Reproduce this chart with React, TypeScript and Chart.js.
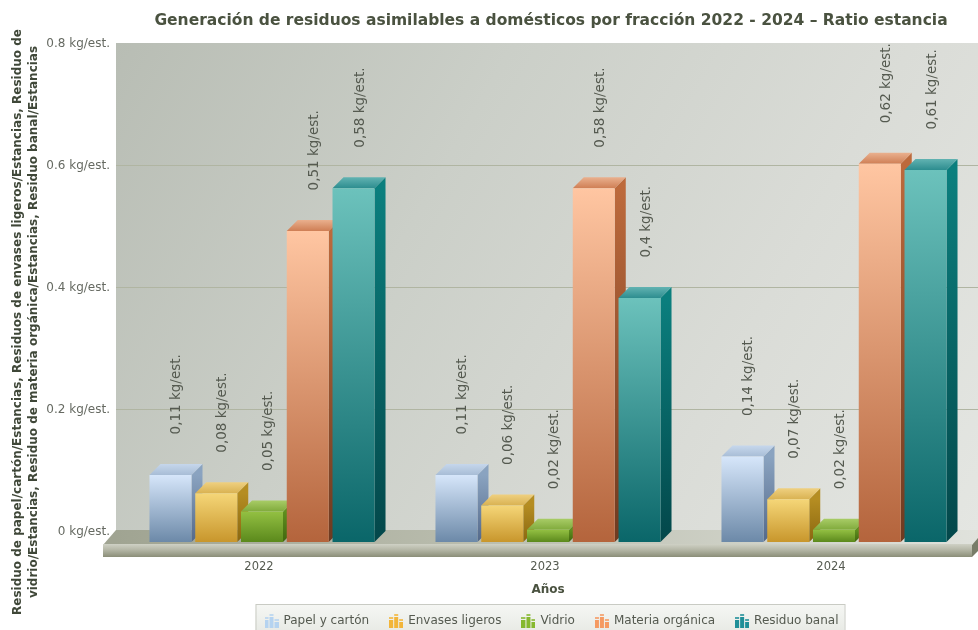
import React, { useEffect, useRef } from "react";
import { Chart, registerables } from "chart.js";

Chart.register(...registerables);

const categories = ["2022", "2023", "2024"];
const papel = [0.11, 0.11, 0.14];
const envases = [0.08, 0.06, 0.07];
const vidrio = [0.05, 0.02, 0.02];
const materia = [0.51, 0.58, 0.62];
const banal = [0.58, 0.4, 0.61];
const seriesNames = ["Papel y cartón", "Envases ligeros", "Vidrio", "Materia orgánica", "Residuo banal"];
const seriesValues = [papel, envases, vidrio, materia, banal];
const titleText = "Generación de residuos asimilables a domésticos por fracción 2022 - 2024 – Ratio estancia";
const yTitleLines = [
  "Residuo de papel/cartón/Estancias, Residuos de envases ligeros/Estancias, Residuo de",
  "vidrio/Estancias, Residuo de materia orgánica/Estancias, Residuo banal/Estancias",
];
const palette = [
  { front: ["#d6e6fa", "#6c89a8"], side: ["#8aa3c0", "#54698a"], top: ["#a8bdd6", "#c6d7ec"], icon: "#b5d3f0" },
  { front: ["#f5d678", "#c8962c"], side: ["#b58d22", "#8a6710"], top: ["#d9b252", "#efd080"], icon: "#f2b53a" },
  { front: ["#93c042", "#5b891c"], side: ["#5f8f1e", "#41660f"], top: ["#80aa3c", "#a8cc66"], icon: "#86b82e" },
  { front: ["#ffc6a2", "#b4643c"], side: ["#bd6a3c", "#6e3a20"], top: ["#cf7f55", "#eab08e"], icon: "#f59a62" },
  { front: ["#6cc2bc", "#0a6669"], side: ["#0b7f7e", "#03474a"], top: ["#2d8d8f", "#62b3b2"], icon: "#1f8f98" },
];

const FONT = "'DejaVu Sans'";
const DX = 11;
const DY = 11;

function vgrad(ctx: CanvasRenderingContext2D, y0: number, y1: number, a: string, b: string) {
  const g = ctx.createLinearGradient(0, y0, 0, y1);
  g.addColorStop(0, a);
  g.addColorStop(1, b);
  return g;
}

function makeIcon(color: string) {
  const c = document.createElement("canvas");
  c.width = 14;
  c.height = 14;
  const x = c.getContext("2d")!;
  x.fillStyle = color;
  x.fillRect(0, 6, 4, 8);
  x.fillRect(5, 3, 4, 11);
  x.fillRect(10, 8, 4, 6);
  x.globalAlpha = 0.8;
  x.fillRect(5, 0, 4, 2);
  x.fillRect(0, 3, 4, 2);
  x.fillRect(10, 5, 4, 2);
  return c;
}

const scene = {
  id: "scene",
  afterUpdate(chart: any) {
    const lg = chart.legend;
    if (lg) {
      lg.left += 4;
      lg.right += 4;
    }
    if (chart.titleBlock) {
      chart.titleBlock.left += 3;
      chart.titleBlock.right += 3;
    }
  },
  beforeDraw(chart: any) {
    const { ctx, legend } = chart;
    const hb = legend.legendHitBoxes;
    const l = hb[0].left - 6;
    const last = hb[hb.length - 1];
    const r = last.left + last.width + 10;
    ctx.save();
    ctx.fillStyle = vgrad(ctx, 604, 630, "#f6f7f4", "#e9ebe6");
    ctx.strokeStyle = "#c9cbc4";
    ctx.lineWidth = 1;
    ctx.fillRect(l, 604.5, r - l, 30);
    ctx.strokeRect(l + 0.5, 604.5, r - l, 30);
    ctx.restore();
  },
  beforeDatasetsDraw(chart: any) {
    const { ctx, chartArea, scales } = chart;
    const y = scales.y;
    const right = chart.width;
    const wallTop = y.getPixelForValue(0.8) - DY;
    const wallBottom = y.getPixelForValue(0) - DY;
    const base = y.getPixelForValue(0);
    const left = chartArea.left - 3;
    ctx.save();
    // back wall
    const wg = ctx.createLinearGradient(left, wallTop, right, wallBottom);
    wg.addColorStop(0, "#b8bdb4");
    wg.addColorStop(0.35, "#cbcfc8");
    wg.addColorStop(0.7, "#dadcd7");
    wg.addColorStop(1, "#e4e6e2");
    ctx.fillStyle = wg;
    ctx.fillRect(left, wallTop, right - left, wallBottom - wallTop);
    // grid lines on the wall
    ctx.strokeStyle = "#b0b5a2";
    ctx.lineWidth = 1;
    y.ticks.forEach((t: any) => {
      if (t.value === 0.8) return;
      const py = Math.round(y.getPixelForValue(t.value) - DY) + 0.5;
      ctx.beginPath();
      ctx.moveTo(left, py);
      ctx.lineTo(right, py);
      ctx.stroke();
    });
    // floor
    const fg = ctx.createLinearGradient(left, 0, right, 0);
    fg.addColorStop(0, "#a0a492");
    fg.addColorStop(0.5, "#bfc2b4");
    fg.addColorStop(1, "#e0e2dc");
    ctx.fillStyle = fg;
    ctx.beginPath();
    ctx.moveTo(left, base - 12);
    ctx.lineTo(right + 8, base - 12);
    ctx.lineTo(right - 6, base + 3);
    ctx.lineTo(left - 13, base + 3);
    ctx.closePath();
    ctx.fill();
    // slab front
    const sg = ctx.createLinearGradient(0, base + 2, 0, base + 15);
    sg.addColorStop(0, "#cfd1c5");
    sg.addColorStop(0.45, "#b4b6a6");
    sg.addColorStop(1, "#8b8e78");
    ctx.fillStyle = sg;
    ctx.fillRect(left - 13, base + 2, right - 6 - (left - 13), 13);
    // slab end
    ctx.fillStyle = "#787c68";
    ctx.beginPath();
    ctx.moveTo(right - 6, base + 3);
    ctx.lineTo(right, base - 4);
    ctx.lineTo(right, base + 9);
    ctx.lineTo(right - 6, base + 15);
    ctx.closePath();
    ctx.fill();

    // depth faces of the bars, left to right
    for (let c = 0; c < categories.length; c++) {
      for (let d = 0; d < seriesValues.length; d++) {
        const el = chart.getDatasetMeta(d).data[c];
        const p = palette[d];
        const hw = el.width / 2;
        const x0 = el.x - hw;
        const x1 = el.x + hw;
        const yt = el.y;
        const yb = el.base;
        ctx.fillStyle = vgrad(ctx, yt, yb, p.side[0], p.side[1]);
        ctx.beginPath();
        ctx.moveTo(x1, yt);
        ctx.lineTo(x1 + DX, yt - DY);
        ctx.lineTo(x1 + DX, yb - DY);
        ctx.lineTo(x1, yb);
        ctx.closePath();
        ctx.fill();
        ctx.fillStyle = vgrad(ctx, yt - DY, yt, p.top[1], p.top[0]);
        ctx.beginPath();
        ctx.moveTo(x0, yt);
        ctx.lineTo(x0 + DX, yt - DY);
        ctx.lineTo(x1 + DX, yt - DY);
        ctx.lineTo(x1, yt);
        ctx.closePath();
        ctx.fill();
      }
    }
    ctx.restore();
  },
  afterDatasetsDraw(chart: any) {
    const { ctx } = chart;
    ctx.save();
    ctx.fillStyle = "#555a50";
    ctx.font = `13.5px ${FONT}`;
    ctx.textAlign = "left";
    ctx.textBaseline = "middle";
    seriesValues.forEach((vals, d) => {
      vals.forEach((v, c) => {
        const el = chart.getDatasetMeta(d).data[c];
        ctx.save();
        ctx.translate(el.x + 6.5, el.y - DY - 29.5);
        ctx.rotate(-Math.PI / 2);
        ctx.fillText(`${String(v).replace(".", ",")} kg/est.`, 0, 0);
        ctx.restore();
      });
    });
    ctx.restore();
  },
  afterDraw(chart: any) {
    const { ctx } = chart;
    ctx.save();
    ctx.fillStyle = "#3f4738";
    ctx.font = `bold 12px ${FONT}`;
    ctx.textAlign = "center";
    ctx.textBaseline = "middle";
    yTitleLines.forEach((line, i) => {
      ctx.save();
      ctx.translate(18 + i * 15.5, 322);
      ctx.rotate(-Math.PI / 2);
      ctx.fillText(line, 0, 0);
      ctx.restore();
    });
    ctx.restore();
  },
};

export default function App() {
  const ref = useRef<HTMLCanvasElement | null>(null);
  useEffect(() => {
    const icons = palette.map((p) => makeIcon(p.icon));
    const chart = new Chart(ref.current!, {
      type: "bar",
      data: {
        labels: categories,
        datasets: seriesNames.map((name, i) => ({
          label: name,
          data: seriesValues[i],
          borderWidth: 0,
          categoryPercentage: 0.8,
          barPercentage: 0.918,
          backgroundColor: (c: any) => {
            const ch = c.chart;
            if (!ch.chartArea || c.parsed == null || c.parsed.y == null) return palette[i].front[0];
            const y0 = ch.scales.y.getPixelForValue(c.parsed.y);
            const y1 = ch.scales.y.getPixelForValue(0);
            return vgrad(ch.ctx, y0, y1, palette[i].front[0], palette[i].front[1]);
          },
        })),
      },
      options: {
        animation: false,
        responsive: false,
        layout: { padding: { top: 0, right: 1, left: 0, bottom: -7 } },
        plugins: {
          tooltip: { enabled: false },
          title: {
            display: true,
            text: titleText,
            fullSize: false,
            color: "#4a5240",
            font: { family: FONT, size: 15.5, weight: "bold" },
            padding: { top: 12, bottom: 23.4 },
          },
          legend: {
            position: "bottom",
            fullSize: false,
            labels: {
              usePointStyle: true,
              boxWidth: 14,
              boxHeight: 14,
              padding: 21,
              color: "#555a50",
              font: { family: FONT, size: 12 },
              generateLabels: (ch: any) =>
                (Chart.defaults.plugins.legend.labels as any).generateLabels(ch).map((l: any, i: number) => ({
                  ...l,
                  pointStyle: icons[i],
                })),
            },
          },
        },
        scales: {
          x: {
            grid: { display: false, drawTicks: false },
            border: { display: false },
            ticks: { color: "#555a50", font: { family: FONT, size: 11.5 }, padding: 18, labelOffset: -3 },
            title: {
              display: true,
              text: "Años",
              color: "#4a5240",
              font: { family: FONT, size: 12, weight: "bold" },
              padding: { top: 0, bottom: -3 },
            },
            afterFit: (s: any) => { s.height = 52; },
          },
          y: {
            min: 0,
            max: 0.8,
            grid: { display: false, drawTicks: false },
            border: { display: false },
            ticks: {
              stepSize: 0.2,
              color: "#666a62",
              font: { family: FONT, size: 12 },
              padding: 9,
              labelOffset: -10,
              callback: (v: any) => `${Number(v.toFixed ? v.toFixed(1) : v)} kg/est.`,
            },
            afterFit: (s: any) => { s.width = 119; },
          },
        },
      },
      plugins: [scene],
    } as any);
    return () => chart.destroy();
  }, []);
  return (
    <div style={{ position: "absolute", left: 0, top: 0, width: 978, height: 630, overflow: "hidden", background: "#fff" }}>
      <canvas ref={ref} width={978} height={630} style={{ display: "block", filter: "blur(0.4px)" }} />
    </div>
  );
}
